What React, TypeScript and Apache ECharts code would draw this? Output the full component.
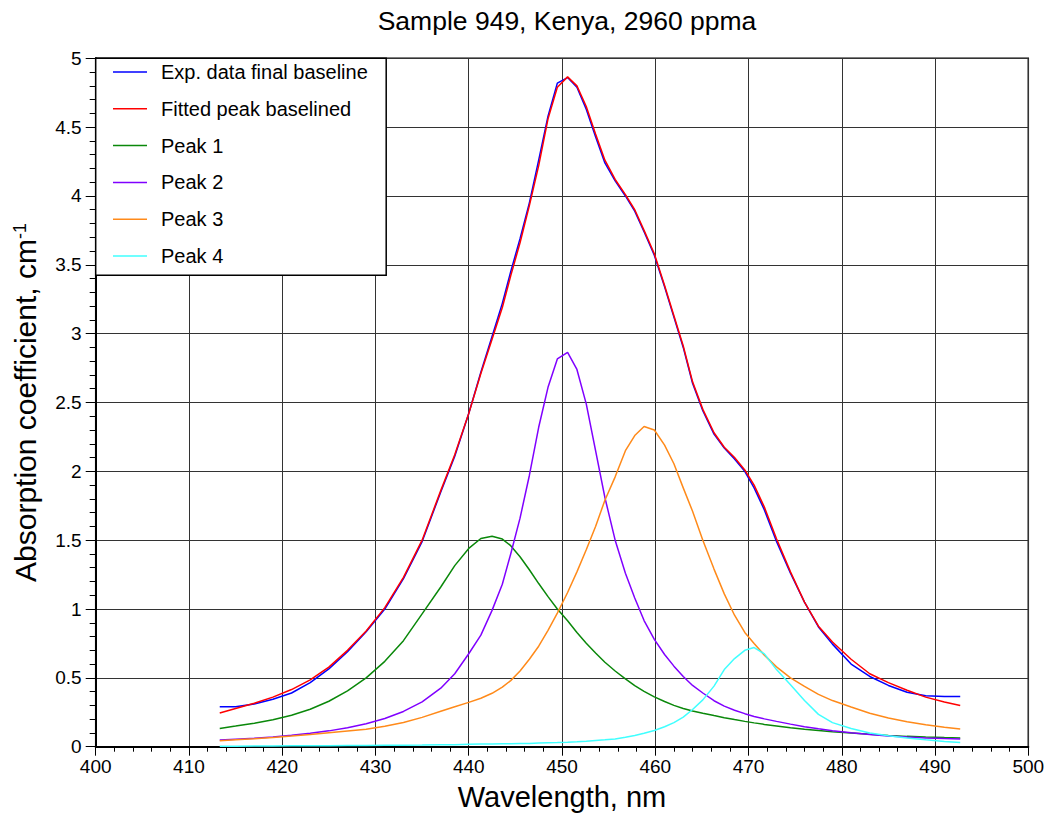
import React, { useEffect, useRef } from "react";
import * as echarts from "echarts";

const wavelengths = [
  413.3, 415, 417, 419, 421, 423, 425, 427, 429, 431, 433, 435, 437, 438.5, 440, 441.3,
  442.5, 443.6, 444.5, 445.5, 446.5, 447.5, 448.5, 449.5, 450.6, 451.6, 452.6, 453.6,
  454.6, 455.7, 456.8, 457.8, 458.8, 459.9, 461, 462, 463, 464, 465.1, 466.3, 467.4,
  468.5, 469.6, 470.6, 471.7, 473, 474.5, 476, 477.5, 479, 481, 483, 485, 487, 489, 491, 492.7,
];

const expData = [
  0.29, 0.29, 0.31, 0.345, 0.39, 0.465, 0.565, 0.69, 0.835, 1.0, 1.22, 1.49, 1.85, 2.11, 2.42, 2.72,
  2.98, 3.22, 3.45, 3.69, 3.95, 4.26, 4.58, 4.82, 4.86, 4.79, 4.63, 4.43,
  4.24, 4.11, 4.0, 3.89, 3.74, 3.57, 3.34, 3.12, 2.9, 2.64, 2.44, 2.27, 2.17,
  2.09, 2.0, 1.88, 1.72, 1.49, 1.26, 1.05, 0.87, 0.745, 0.6, 0.51, 0.445, 0.395, 0.37, 0.365, 0.365,
];

const fittedPeak = [
  0.245, 0.278, 0.315, 0.36, 0.415, 0.485, 0.578, 0.7, 0.84, 1.01, 1.23, 1.5, 1.86, 2.12, 2.42, 2.71,
  2.96, 3.19, 3.42, 3.66, 3.93, 4.22, 4.56, 4.79, 4.865, 4.8, 4.65, 4.45,
  4.26, 4.12, 4.01, 3.9, 3.75, 3.58, 3.35, 3.13, 2.91, 2.65, 2.45, 2.28, 2.175,
  2.1, 2.01, 1.9, 1.74, 1.51, 1.27, 1.05, 0.875, 0.76, 0.635, 0.53, 0.465, 0.41, 0.36, 0.325, 0.3,
];

const peak1 = [
  0.133, 0.15, 0.17, 0.195, 0.228, 0.272, 0.33, 0.405, 0.5, 0.62, 0.77, 0.965, 1.16, 1.315, 1.44, 1.512,
  1.528, 1.508, 1.46, 1.38, 1.285, 1.185, 1.09, 1.0, 0.915, 0.83, 0.752, 0.68,
  0.613, 0.55, 0.492, 0.443, 0.402, 0.362, 0.328, 0.3, 0.277, 0.259, 0.243, 0.226, 0.211,
  0.197, 0.184, 0.173, 0.162, 0.151, 0.138, 0.127, 0.117, 0.108, 0.099, 0.09, 0.082, 0.075, 0.07, 0.066, 0.063,
];

const peak2 = [
  0.049, 0.055, 0.062, 0.071, 0.084, 0.098, 0.115, 0.137, 0.166, 0.205, 0.256, 0.325, 0.425, 0.53, 0.675, 0.81,
  0.99, 1.18, 1.4, 1.66, 1.97, 2.32, 2.61, 2.816, 2.864, 2.74, 2.49, 2.15,
  1.81, 1.5, 1.26, 1.08, 0.916, 0.78, 0.67, 0.585, 0.51, 0.445, 0.39, 0.334, 0.295,
  0.265, 0.24, 0.22, 0.202, 0.184, 0.164, 0.145, 0.13, 0.116, 0.101, 0.089, 0.078, 0.07, 0.064, 0.059, 0.056,
];

const peak3 = [
  0.044, 0.05, 0.057, 0.066, 0.077, 0.089, 0.102, 0.114, 0.126, 0.148, 0.176, 0.213, 0.257, 0.29, 0.322, 0.352,
  0.388, 0.433, 0.48, 0.55, 0.635, 0.73, 0.845, 0.97, 1.12, 1.27, 1.43, 1.6,
  1.79, 1.96, 2.15, 2.26, 2.326, 2.3, 2.19, 2.055, 1.88, 1.71, 1.5, 1.29, 1.11,
  0.955, 0.83, 0.75, 0.665, 0.58, 0.5, 0.438, 0.38, 0.335, 0.288, 0.243, 0.208, 0.182, 0.16, 0.142, 0.128,
];

const peak4 = [
  0.004, 0.004, 0.005, 0.005, 0.006, 0.006, 0.007, 0.008, 0.009, 0.01, 0.011, 0.012, 0.014, 0.015, 0.017, 0.019,
  0.02, 0.021, 0.022, 0.023, 0.024, 0.026, 0.028, 0.03, 0.033, 0.036, 0.04, 0.045,
  0.05, 0.056, 0.068, 0.082, 0.098, 0.118, 0.145, 0.175, 0.215, 0.27, 0.34, 0.44, 0.56,
  0.64, 0.7, 0.72, 0.674, 0.56, 0.45, 0.335, 0.235, 0.175, 0.132, 0.1, 0.08, 0.064, 0.05, 0.038, 0.031,
];

const seriesNames = [
  "Exp. data final baseline",
  "Fitted peak baselined",
  "Peak 1",
  "Peak 2",
  "Peak 3",
  "Peak 4",
];
const seriesValues = [expData, fittedPeak, peak1, peak2, peak3, peak4];
const seriesColors = ["#0000ff", "#ff0000", "#0a880a", "#8000ff", "#ff8a1a", "#40ffff"];

const FONT = "'Liberation Sans', Arial, Helvetica, sans-serif";

export default function App() {
  const ref = useRef<HTMLDivElement>(null);

  useEffect(() => {
    if (!ref.current) return;
    const chart = echarts.init(ref.current, undefined, { renderer: "svg" });

    const series = seriesNames.map((name, i) => ({
      name,
      type: "line",
      data: wavelengths.map((w, j) => [w, seriesValues[i][j]]),
      symbol: "none",
      showSymbol: false,
      smooth: false,
      lineStyle: { color: seriesColors[i], width: 1.5 },
      itemStyle: { color: seriesColors[i] },
      z: 2 + i * 0.01,
    }));

    chart.setOption({
      animation: false,
      backgroundColor: "#ffffff",
      textStyle: { fontFamily: FONT, color: "#000" },
      title: {
        text: "Sample 949, Kenya, 2960 ppma",
        left: 567,
        textAlign: "center",
        top: 7,
        padding: 0,
        textStyle: { fontFamily: FONT, fontSize: 26.5, fontWeight: "normal", color: "#000" },
      },
      grid: {
        left: 95.7,
        right: 19.7,
        top: 58.3,
        bottom: 74.3,
        show: true,
        borderColor: "#000",
        borderWidth: 1.5,
        backgroundColor: "transparent",
      },
      graphic: [
        {
          type: "rect",
          shape: { x: 95.7, y: 58.3, width: 290.5, height: 217 },
          style: { fill: "#fff", stroke: "#000", lineWidth: 1.5 },
          z: 50,
        },
      ],
      legend: {
        orient: "vertical",
        left: 113,
        top: 62,
        padding: 0,
        itemWidth: 34,
        itemHeight: 19,
        itemGap: 16.8,
        z: 60,
        icon: "path://M0,9 L34,9 L34,10.5 L0,10.5 Z",
        textStyle: { fontFamily: FONT, fontSize: 20, color: "#000", padding: [0, 0, 0, 9] },
        data: seriesNames.map((n, i) => ({ name: n, itemStyle: { color: seriesColors[i] } })),
      },
      xAxis: {
        type: "value",
        min: 400,
        max: 500,
        interval: 10,
        name: "Wavelength, nm",
        nameLocation: "middle",
        nameGap: 36,
        nameTextStyle: { fontFamily: FONT, fontSize: 29, color: "#000" },
        axisLine: { show: true, onZero: false, lineStyle: { color: "#000", width: 2 } },
        axisTick: { show: true, inside: false, length: 9, lineStyle: { color: "#000", width: 1 } },
        minorTick: { show: true, splitNumber: 5, length: 5, lineStyle: { color: "#000", width: 1 } },
        axisLabel: { fontFamily: FONT, fontSize: 19, color: "#000", margin: 10 },
        splitLine: { show: true, lineStyle: { color: "#333", width: 1 } },
      },
      yAxis: {
        type: "value",
        min: 0,
        max: 5,
        interval: 0.5,
        name: "Absorption coefficient, cm{sup|-1}",
        nameLocation: "middle",
        nameGap: 55,
        nameTextStyle: {
          fontFamily: FONT,
          fontSize: 30,
          color: "#000",
          rich: {
            sup: { fontFamily: FONT, fontSize: 18, color: "#000", verticalAlign: "top", padding: [0, 0, 12, 0] },
          },
        },
        axisLine: { show: true, onZero: false, lineStyle: { color: "#000", width: 2 } },
        axisTick: { show: true, inside: false, length: 10, lineStyle: { color: "#000", width: 1 } },
        minorTick: { show: true, splitNumber: 5, length: 6, lineStyle: { color: "#000", width: 1 } },
        axisLabel: { fontFamily: FONT, fontSize: 19, color: "#000", margin: 14 },
        splitLine: { show: true, lineStyle: { color: "#333", width: 1 } },
      },
      series,
    });

    return () => chart.dispose();
  }, []);

  return (
    <div
      ref={ref}
      style={{ position: "fixed", left: 0, top: 0, width: 1048, height: 821, background: "#fff" }}
    />
  );
}
